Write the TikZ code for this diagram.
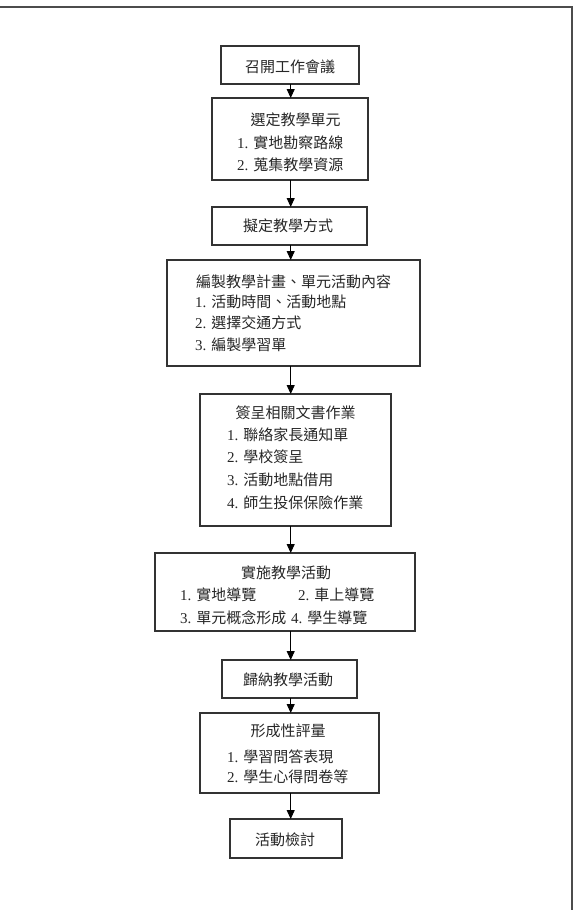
\documentclass[tikz,border=0pt]{standalone}
\usepackage{fontspec}
\setmainfont{Liberation Serif}
\newfontfamily\cjk{Noto Sans CJK TC}
\usetikzlibrary{arrows.meta}
\begin{document}
\begin{tikzpicture}[x=1pt,y=-1pt,
  flowbox/.style={draw=black!80, line width=1.1pt, inner sep=0pt, outer sep=0pt},
  txt/.style={inner sep=0pt, font=\fontsize{15}{16}\selectfont, text height=11.8pt, text depth=1.6pt, text=black!85},
  lt/.style={txt, anchor=west},
  arr/.style={draw=black, line width=0.9pt, -{Triangle[width=8pt,length=9pt]}}
]
\useasboundingbox (0,0) rectangle (574,910);
\draw[line width=1.6pt, draw=black!70] (0,7) -- (572,7) -- (572,912);

\coordinate (ax) at (290.7,0);

% boxes
\node[flowbox, minimum width=138pt, minimum height=38pt] (b1) at (290,65) {};
\node[flowbox, minimum width=156pt, minimum height=82pt] (b2) at (290,139) {};
\node[flowbox, minimum width=155pt, minimum height=38pt] (b3) at (289.5,226) {};
\node[flowbox, minimum width=253pt, minimum height=106pt] (b4) at (293.5,313) {};
\node[flowbox, minimum width=191pt, minimum height=132pt] (b5) at (295.5,460) {};
\node[flowbox, minimum width=260pt, minimum height=78pt] (b6) at (285,592) {};
\node[flowbox, minimum width=135pt, minimum height=38pt] (b7) at (289.5,679) {};
\node[flowbox, minimum width=179pt, minimum height=80pt] (b8) at (289.5,753) {};
\node[flowbox, minimum width=112pt, minimum height=39pt] (b9) at (286,838.5) {};

% texts
\node[txt] (t1) at (290,67) {\cjk 召開工作會議};

\node[txt] (t2) at (295.5,120) {\cjk 選定教學單元};
\node[lt] (t2a) at (237,143) {1. {\cjk 實地勘察路線}};
\node[lt] (t2b) at (237,165) {2. {\cjk 蒐集教學資源}};

\node[txt] (t3) at (288,226) {\cjk 擬定教學方式};

\node[lt] (t4) at (196,282) {\cjk 編製教學計畫、單元活動內容};
\node[lt] (t4a) at (195,302) {1. {\cjk 活動時間、活動地點}};
\node[lt] (t4b) at (195,323) {2. {\cjk 選擇交通方式}};
\node[lt] (t4c) at (195,345) {3. {\cjk 編製學習單}};

\node[txt] (t5) at (295.5,413) {\cjk 簽呈相關文書作業};
\node[lt] (t5a) at (227,435) {1. {\cjk 聯絡家長通知單}};
\node[lt] (t5b) at (227,457) {2. {\cjk 學校簽呈}};
\node[lt] (t5c) at (227,480) {3. {\cjk 活動地點借用}};
\node[lt] (t5d) at (227,503) {4. {\cjk 師生投保保險作業}};

\node[txt] (t6) at (286,573) {\cjk 實施教學活動};
\node[lt] (t6a) at (180,595) {1. {\cjk 實地導覽}};
\node[lt] (t6b) at (298,595) {2. {\cjk 車上導覽}};
\node[lt] (t6c) at (180,618) {3. {\cjk 單元概念形成}};
\node[lt] (t6d) at (291,618) {4. {\cjk 學生導覽}};

\node[txt] (t7) at (288,680) {\cjk 歸納教學活動};

\node[txt] (t8) at (288,731) {\cjk 形成性評量};
\node[lt] (t8a) at (227,757) {1. {\cjk 學習問答表現}};
\node[lt] (t8b) at (227,777) {2. {\cjk 學生心得問卷等}};

\node[txt] (t9) at (285,840) {\cjk 活動檢討};

% connectors
\draw[arr] (b1.south -| ax) -- (b2.north -| ax);
\draw[arr] (b2.south -| ax) -- (b3.north -| ax);
\draw[arr] (b3.south -| ax) -- (b4.north -| ax);
\draw[arr] (b4.south -| ax) -- (b5.north -| ax);
\draw[arr] (b5.south -| ax) -- (b6.north -| ax);
\draw[arr] (b6.south -| ax) -- (b7.north -| ax);
\draw[arr] (b7.south -| ax) -- (b8.north -| ax);
\draw[arr] (b8.south -| ax) -- (b9.north -| ax);
\end{tikzpicture}
\end{document}
